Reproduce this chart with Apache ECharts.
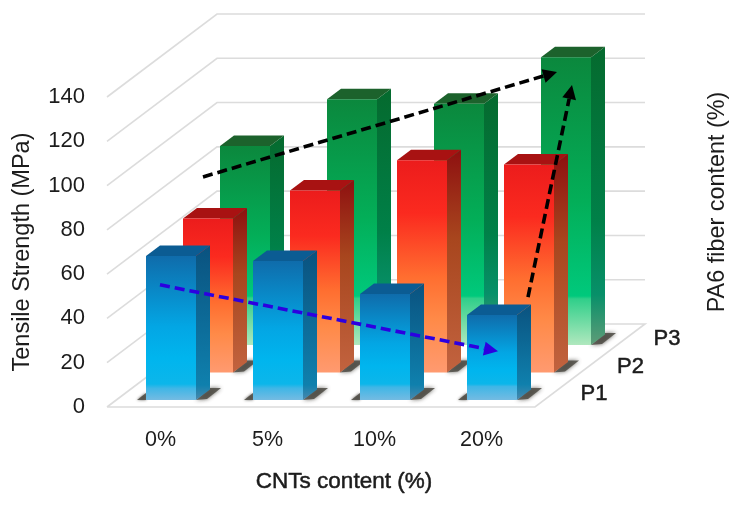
<!DOCTYPE html>
<html><head><meta charset="utf-8">
<style>html,body{margin:0;padding:0;background:#fff}#c{width:746px;height:505px}</style>
<script src="https://cdn.jsdelivr.net/npm/echarts@6/dist/echarts.min.js"></script>
</head><body><div id="c"></div>
<script>
const categories = ['0%', '5%', '10%', '20%'];
const rows = ['P1', 'P2', 'P3'];
const yTicks = [0, 20, 40, 60, 80, 100, 120, 140];
const p1Values = [65, 62.8, 47.9, 38.4];
const p2Values = [69.6, 82.2, 95.8, 93.9];
const p3Values = [89.9, 111, 108.9, 130];
// [category, value, row, sideways shift] for the start and the end of each arrow
const blueArrow = [[0, 52, 0, -11], [3, 22, 0, 6]];
const blackArrowA = [[0, 75.9, 2, -42], [3, 123.3, 2, -9]];
const blackArrowB = [[3, 46.5, 0, 36], [3, 117.4, 2, 6]];

const FONT = '"Liberation Sans", Arial, sans-serif';
const TXT = '#1c1c1c';
const rowDX = i => 10.5 + 37 * i;
const rowDY = i => -7 - 27.5 * i;
const BAR_W = 50, SIDE_X = 14, SIDE_Y = -10.5;
const G = echarts.graphic.LinearGradient;
const grad = stops => new G(0, 0, 0, 1, stops.map(s => ({offset: s[0], color: s[1]})));

const palettes = [
  {
    top: '#0b5c93',
    front: h => { const t = 1 - 16 / h; return [[0, '#0f6cab'], [0.55 * t, '#03a6e4'], [0.8 * t, '#00b5ee'], [t, '#0cb6ea'], [t + 0.03, '#3fb6e6'], [1, '#74bbe2']]; },
    side: h => { const t = 1 - 14 / h; return [[0, '#0a527f'], [t, '#0f80ad'], [1, '#4a88ad']]; }
  },
  {
    top: '#a81212',
    front: () => [[0, '#ec1c1c'], [0.25, '#fb2a1f'], [0.55, '#ff6e30'], [0.75, '#ff8a48'], [1, '#ff9a70']],
    side: () => [[0, '#8e1010'], [0.4, '#a8461e'], [1, '#c2633f']]
  },
  {
    top: '#1c622c',
    front: h => { const t = 1 - 49 / h; return [[0, '#0b883d'], [0.6 * t, '#03ae58'], [t, '#00c97c'], [t + 0.01, '#30cf8a'], [1, '#b0e8be']]; },
    side: h => { const t = 1 - 49 / h; return [[0, '#056a2e'], [0.7 * t, '#008048'], [t, '#079069'], [1, '#5f9c78']]; }
  }
];

const barSeries = (row, values) => ({
  type: 'custom',
  coordinateSystem: 'cartesian2d',
  data: values.map((v, i) => [i, v]),
  encode: {x: 0, y: 1},
  clip: false,
  silent: true,
  z: 3 + (2 - row),
  renderItem(params, api) {
    const cat = api.value(0), val = api.value(1);
    const base = api.coord([cat, 0]), tip = api.coord([cat, val]);
    const x0 = base[0] + rowDX(row) - BAR_W / 2, x1 = x0 + BAR_W, x2 = x1 + SIDE_X;
    const y0 = base[1] + rowDY(row), yt = tip[1] + rowDY(row), yb = yt + SIDE_Y;
    const h = y0 - yt, pal = palettes[row];
    const shape = pts => ({points: pts});
    const shadow = '#4d4b44';
    return {
      type: 'group',
      children: [
        {type: 'polygon', shape: shape([[x1, y0], [x1 + 11, y0 - 1], [x2 + 11, y0 - 12], [x2, y0 - 12]]), style: {fill: shadow, opacity: 0.85, shadowBlur: 4, shadowColor: shadow}},
        {type: 'polygon', shape: shape([[x0 - 9, y0], [x0, y0 - 7], [x0, y0]]), style: {fill: shadow, opacity: 0.85, shadowBlur: 3, shadowColor: shadow}},
        {type: 'polygon', shape: shape([[x1, yt], [x2, yb], [x2, y0 + SIDE_Y], [x1, y0]]), style: {fill: grad(pal.side(h))}},
        {type: 'polygon', shape: shape([[x0, yt], [x0 + SIDE_X, yb], [x2, yb], [x1, yt]]), style: {fill: pal.top}},
        {type: 'rect', shape: {x: x0, y: yt, width: BAR_W, height: h}, style: {fill: grad(pal.front(h))}}
      ]
    };
  }
});

const arrowSeries = (points, color) => ({
  type: 'custom',
  coordinateSystem: 'cartesian2d',
  data: [[0, 0]],
  encode: {x: 0, y: 1},
  clip: false,
  silent: true,
  z: 10,
  renderItem(params, api) {
    const pos = p => { const c = api.coord([p[0], p[1]]); return [c[0] + rowDX(p[2]) + p[3], c[1] + rowDY(p[2])]; };
    const a = pos(points[0]), b = pos(points[1]);
    const len = Math.hypot(b[0] - a[0], b[1] - a[1]);
    const ux = (b[0] - a[0]) / len, uy = (b[1] - a[1]) / len;
    const HL = 14, HW = 7;
    const n = [b[0] - ux * HL, b[1] - uy * HL];
    return {
      type: 'group',
      children: [
        {type: 'line', shape: {x1: a[0], y1: a[1], x2: n[0], y2: n[1]}, style: {stroke: color, lineWidth: 3.6, lineDash: [10, 5]}},
        {type: 'polygon', shape: {points: [b, [n[0] - uy * HW, n[1] + ux * HW], [n[0] + uy * HW, n[1] - ux * HW]]}, style: {fill: color}}
      ]
    };
  }
});

const WALL_X = 110, WALL_Y = -83, WALL_C = '#dcdcdc';
const option = {
  animation: false,
  backgroundColor: '#fff',
  textStyle: {fontFamily: FONT},
  grid: {left: 107, right: 211, top: 97, bottom: 98, containLabel: false},
  xAxis: {
    type: 'category', data: categories,
    axisLine: {show: false}, axisTick: {show: false}, splitLine: {show: false},
    axisLabel: {fontFamily: FONT, fontSize: 21.5, color: TXT, margin: 22},
    name: 'CNTs content (%)', nameLocation: 'middle', nameGap: 63, nameMoveOverlap: false,
    nameTextStyle: {fontFamily: FONT, fontSize: 22.5, color: TXT, textBorderColor: TXT, textBorderWidth: 0.5, padding: [0, 0, 0, 46]}
  },
  yAxis: {
    type: 'value', min: 0, max: 140, interval: 20,
    axisLine: {show: false}, axisTick: {show: false}, splitLine: {show: false},
    axisLabel: {fontFamily: FONT, fontSize: 22, color: TXT, margin: 22},
    name: 'Tensile Strength (MPa)', nameLocation: 'middle', nameGap: 72, nameRotate: 90, nameMoveOverlap: false,
    nameTextStyle: {fontFamily: FONT, fontSize: 23.5, color: TXT}
  },
  graphic: [{
    type: 'text', x: 718, y: 202, rotation: Math.PI / 2 , silent: true,
    style: {text: 'PA6 fiber content (%)', fontFamily: FONT, fontSize: 23.4, fill: TXT, align: 'center', verticalAlign: 'middle'}
  }],
  series: [
    {
      type: 'custom', coordinateSystem: 'cartesian2d',
      data: yTicks.map(v => [0, v]), encode: {x: 0, y: 1}, clip: false, silent: true, z: 1,
      renderItem(params, api) {
        const val = api.value(1);
        const a = api.coord([0, val]), band = api.size([1, 0])[0];
        const x = a[0] - band / 2, y = a[1];
        const style = {stroke: WALL_C, lineWidth: 1.6, fill: 'none'};
        const pts = [[x, y], [x + WALL_X, y + WALL_Y], [x + 4 * band + WALL_X, y + WALL_Y]];
        if (val === 0) { pts.push([x + 4 * band, y], [x, y]); }
        return {type: 'polyline', shape: {points: pts}, style};
      }
    },
    barSeries(2, p3Values),
    barSeries(1, p2Values),
    barSeries(0, p1Values),
    arrowSeries(blackArrowA, '#000'),
    arrowSeries(blueArrow, '#2c00e0'),
    arrowSeries(blackArrowB, '#000'),
    {
      type: 'custom', coordinateSystem: 'cartesian2d',
      data: rows.map((r, i) => [3, 0, i]), encode: {x: 0, y: 1}, clip: false, silent: true, z: 10,
      renderItem(params, api) {
        const i = api.value(2);
        const c = api.coord([3, 0]);
        return {type: 'text', x: c[0] + 102 + rowDX(i) - i * 0.5, y: c[1] - 6 + rowDY(i),
          style: {text: rows[i], fontFamily: FONT, fontSize: 22, fill: TXT, stroke: TXT, lineWidth: 0.5, align: 'center', verticalAlign: 'middle'}};
      }
    }
  ]
};
const chart = echarts.init(document.getElementById('c'), null, {renderer: 'canvas'});
chart.setOption(option);
</script>
</body></html>
